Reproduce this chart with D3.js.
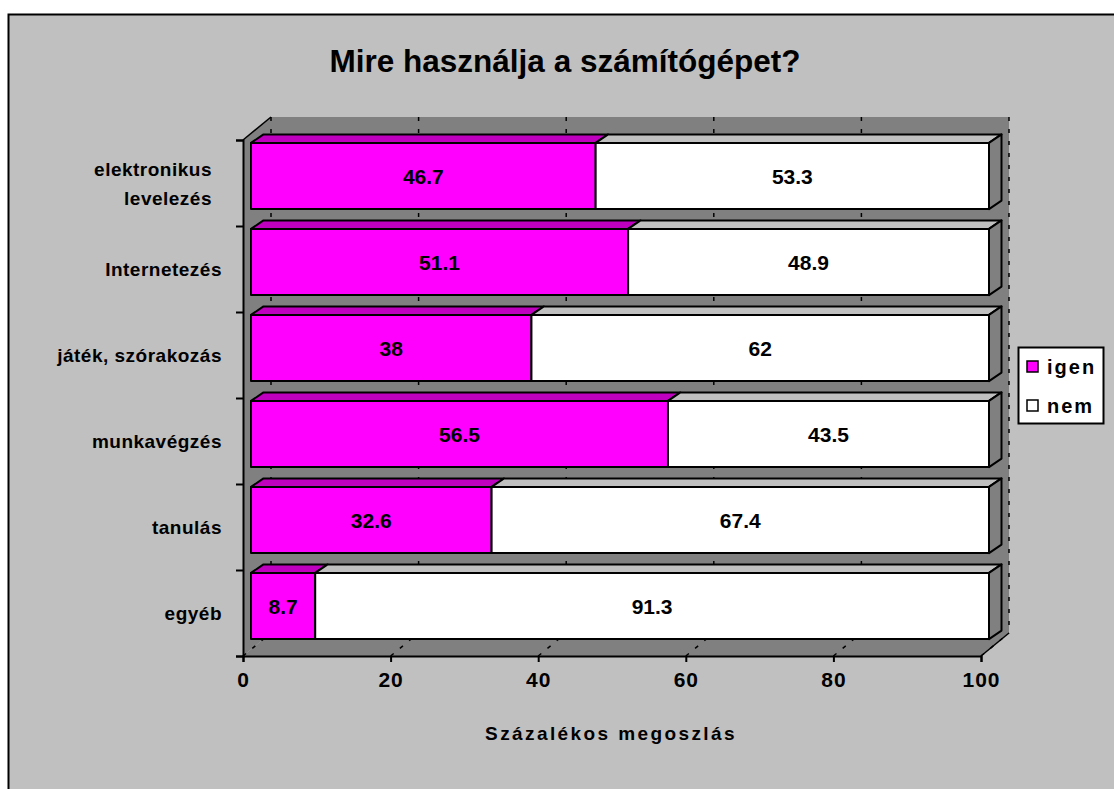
<!DOCTYPE html>
<html>
<head>
<meta charset="utf-8">
<script src="https://cdn.jsdelivr.net/npm/d3@7"></script>
<style>
  body { margin: 0; background: #ffffff; }
  svg text { font-family: Arial, "Liberation Sans", sans-serif; font-weight: bold; fill: #000; }
</style>
</head>
<body>
<div id="chart"></div>
<script>
// data
var categories = [["elektronikus", "levelezés"], ["Internetezés"], ["játék, szórakozás"], ["munkavégzés"], ["tanulás"], ["egyéb"]];
var igen = [46.7, 51.1, 38, 56.5, 32.6, 8.7];
var nem = [53.3, 48.9, 62, 43.5, 67.4, 91.3];
var seriesNames = ["igen", "nem"];
var xTicks = [0, 20, 40, 60, 80, 100];

var width = 1114, height = 789;

var svg = d3.select("#chart").append("svg")
    .attr("width", width)
    .attr("height", height)

// chart area frame
svg.append("rect")
    .attr("x", 8.5).attr("y", 14.5)
    .attr("width", 1200).attr("height", 900)
    .attr("fill", "#c0c0c0")
    .attr("stroke", "#000").attr("stroke-width", 2)

svg.append("text")
    .attr("x", 565).attr("y", 72)
    .attr("text-anchor", "middle")
    .style("font-size", "31.5px")
    .text("Mire használja a számítógépet?")

// front plane of the 3d box
var x = d3.scaleLinear().domain([0, 100]).range([243, 981]);
var y = d3.scaleBand().domain(d3.range(categories.length)).range([140, 656]);
var yIdx = d3.scaleLinear().domain([0, categories.length]).range([140, 656]);

var wdx = 28, wdy = -23;     // wall depth
var fdx = 8, fdy = -7;       // bar front offset
var bdx = 12.5, bdy = -8.5;  // bar depth
var barH = y.bandwidth() * 0.77;

var top0 = yIdx(0), bot0 = yIdx(categories.length);
var x0 = x(0), x1 = x(100);
var wall = "#808080";

function pts(p) { return p.map(function(d) { return d.join(","); }).join(" "); }

// back wall, side wall, floor
svg.append("polygon").attr("fill", wall)
    .attr("points", pts([[x0 + wdx, top0 + wdy], [x1 + wdx, top0 + wdy], [x1 + wdx, bot0 + wdy], [x0 + wdx, bot0 + wdy]]))
svg.append("polygon").attr("fill", wall)
    .attr("points", pts([[x0, top0], [x0 + wdx, top0 + wdy], [x0 + wdx, bot0 + wdy], [x0, bot0]]))
svg.append("polygon").attr("fill", wall)
    .attr("points", pts([[x0, bot0], [x1, bot0], [x1 + wdx, bot0 + wdy], [x0 + wdx, bot0 + wdy]]))

// gridlines, dashed, on wall and floor
var grid = svg.append("g").attr("stroke", "#000").attr("stroke-width", 1.5).attr("stroke-dasharray", "4,8")
grid.selectAll("line.v").data(xTicks).enter().append("line")
    .attr("x1", function(d) { return x(d) + wdx; }).attr("x2", function(d) { return x(d) + wdx; })
    .attr("y1", top0 + wdy).attr("y2", bot0 + wdy)
grid.selectAll("line.f").data(xTicks).enter().append("line")
    .attr("x1", function(d) { return x(d); }).attr("y1", bot0)
    .attr("x2", function(d) { return x(d) + wdx; }).attr("y2", bot0 + wdy)

// box edges
svg.append("line").attr("x1", x0).attr("y1", top0).attr("x2", x0 + wdx).attr("y2", top0 + wdy)
    .attr("stroke", "#000").attr("stroke-width", 1.5)
svg.append("line").attr("x1", x1).attr("y1", bot0).attr("x2", x1 + wdx).attr("y2", bot0 + wdy)
    .attr("stroke", "#000").attr("stroke-width", 1.5)

// axes
var yAxis = svg.append("g").attr("transform", "translate(" + x0 + ",0)")
    .call(d3.axisLeft(yIdx).ticks(categories.length).tickSize(7).tickFormat(""))
var xAxis = svg.append("g").attr("transform", "translate(0," + bot0 + ")")
    .call(d3.axisBottom(x).tickValues(xTicks).tickSize(6).tickPadding(10))
svg.selectAll(".domain, .tick line").attr("stroke", "#000").attr("stroke-width", 2)
xAxis.selectAll("text").attr("font-family", null).style("font-size", "21px")
    .style("letter-spacing", "1px").attr("dy", "0.71em")

// bars
var colors = { igen: { front: "#ff00ff", top: "#bf00bf" }, nem: { front: "#ffffff", top: "#c0c0c0" } };
var stacks = categories.map(function(c, i) {
  return [
    { key: "igen", i: i, v0: 0, v1: igen[i], val: igen[i] },
    { key: "nem", i: i, v0: igen[i], v1: igen[i] + nem[i], val: nem[i] }
  ];
});

var bars = svg.append("g")
stacks.forEach(function(st) {
  st.forEach(function(s, k) {
    var xa = x(s.v0) + fdx, xb = x(s.v1) + fdx;
    var yt = y(s.i) + y.bandwidth() / 2 - barH / 2 + fdy, yb = yt + barH;
    var g = bars.append("g").attr("stroke", "#000").attr("stroke-width", 2).attr("stroke-linejoin", "round")
    g.append("polygon").attr("fill", colors[s.key].top)
        .attr("points", pts([[xa, yt], [xa + bdx, yt + bdy], [xb + bdx, yt + bdy], [xb, yt]]))
    if (k == st.length - 1) {
      g.append("polygon").attr("fill", wall)
          .attr("points", pts([[xb, yt], [xb + bdx, yt + bdy], [xb + bdx, yb + bdy], [xb, yb]]))
    }
    g.append("rect").attr("fill", colors[s.key].front)
        .attr("x", xa).attr("y", yt).attr("width", xb - xa).attr("height", barH)
    bars.append("text")
        .attr("x", (xa + xb) / 2).attr("y", yt + barH / 2 + 7.5)
        .attr("text-anchor", "middle")
        .style("font-size", "21px")
        .text(s.val)
  })
})

// category labels
categories.forEach(function(c, i) {
  var cy = y(i) + y.bandwidth() / 2;
  var t = svg.append("text").attr("text-anchor", "end").style("font-size", "19px")
      .style("letter-spacing", "0.5px")
  c.forEach(function(line, j) {
    t.append("tspan").attr("x", c.length > 1 ? 212 : 222)
      .attr("y", cy + 7 + (j - (c.length - 1) / 2) * 29)
      .text(line)
  })
})

svg.append("text")
    .attr("x", 611).attr("y", 740)
    .attr("text-anchor", "middle")
    .style("font-size", "19px")
    .style("letter-spacing", "2.4px")
    .text("Százalékos megoszlás")

// legend
var leg = svg.append("g").attr("transform", "translate(1018,347)")
leg.append("rect").attr("x", 0.5).attr("y", 0.5).attr("width", 85).attr("height", 76)
    .attr("fill", "#fff").attr("stroke", "#000").attr("stroke-width", 2)
seriesNames.forEach(function(n, i) {
  leg.append("rect").attr("x", 9).attr("y", 14 + i * 39).attr("width", 11).attr("height", 11)
      .attr("fill", colors[n].front).attr("stroke", "#000").attr("stroke-width", 1.5)
  leg.append("text").attr("x", 29).attr("y", 27 + i * 39)
      .style("font-size", "20px").style("letter-spacing", "2px")
      .text(n)
})
</script>
</body>
</html>
